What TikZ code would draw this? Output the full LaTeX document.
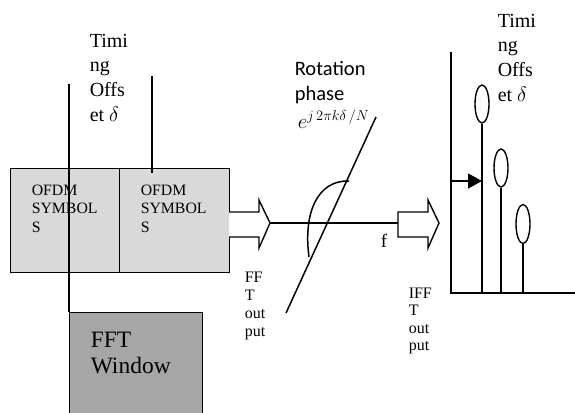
\documentclass[tikz,border=0pt]{standalone}
\usepackage{fontspec}
\setmainfont{Liberation Serif}
\newfontfamily\calibfont{Carlito}
\usetikzlibrary{shapes.geometric,arrows.meta}
\definecolor{symgray}{HTML}{D9D9D9}
\definecolor{fftgray}{HTML}{A6A6A6}
\begin{document}
\begin{tikzpicture}[x=1pt,y=-1pt,line width=1.5pt,
  symbox/.style={draw,fill=symgray,line width=1.4pt,minimum height=104pt,inner sep=0pt,anchor=north west},
  fftbox/.style={draw,fill=fftgray,line width=1.4pt,minimum width=133pt,minimum height=112pt,inner sep=0pt,anchor=north west},
  txt/.style={inner sep=0pt,anchor=base west,align=left},
  timitext/.style={txt,font=\fontsize{20}{24.6}\selectfont},
  symtext/.style={txt,font=\fontsize{15.8}{18.5}\selectfont},
  lolli/.style={draw,ellipse,line width=1.4pt,minimum width=14pt,minimum height=38pt,inner sep=0pt},
  hollow/.style={draw,fill=white,line width=1.4pt,line join=miter}]
\useasboundingbox (0,0) rectangle (575,412);
\begin{scope}
\clip (0,0) rectangle (575,412);
% OFDM symbol boxes (base anchor = last line baseline)
\node[symbox,minimum width=109pt] (s1) at (10,168) {};
\node[symbox,minimum width=110pt] (s2) at (119,168) {};
\node[symtext] (s1t) at (31,232) {OFDM\\SYMBOL\\S};
\node[symtext] (s2t) at (140,232) {OFDM\\SYMBOL\\S};
% FFT window
\node[fftbox] (fft) at (69,312) {};
\node[txt,font=\fontsize{23.5}{26}\selectfont] (fftt) at (90,373) {FFT\\Window};
% timing lines
\coordinate (v1top) at (69,84);
\draw (v1top) -- (fft.north west);
\coordinate (v2top) at (152,76);
\coordinate (v2bot) at (152,173);
\draw (v2top) -- (v2bot);
\node[timitext] (tim1) at (89,121) {Timi\\ng\\Offs\\et $\delta$};
% hollow arrows
\draw[hollow] (229,212) -- (259,212) -- (259,200) -- (270,223) -- (259,248) -- (259,237) -- (229,237);
\coordinate (a1tip) at (270,223);
\draw[hollow] (398,212) -- (428,212) -- (428,200) -- (439,223) -- (428,248) -- (428,237) -- (398,237) -- cycle;
\coordinate (a2tail) at (398,223);
\draw (a1tip) -- (a2tail);
\node[txt,font=\fontsize{19}{22}\selectfont] (flab) at (380,247) {f};
% rotation line and curve
\coordinate (sl1) at (286,313);
\coordinate (sl2) at (376,117);
\draw (sl1) -- (sl2);
\coordinate (cv1) at (309,257);
\coordinate (cv2) at (349,181);
\draw (cv1) .. controls (303,212) and (318,180) .. (cv2);
\node[txt,font=\calibfont\fontsize{20.5}{25}\selectfont] (rot) at (294,100) {Rotation\\phase};
\node[txt,font=\fontsize{20}{22}\selectfont] (expo) at (297,128) {$e^{j\,2\pi k\delta\,/N}$};
\node[txt,font=\fontsize{16}{18}\selectfont] (fftout) at (244,336) {FF\\T\\out\\put};
\node[txt,font=\fontsize{16}{17.5}\selectfont] (ifftout) at (408,350.5) {IFF\\T\\out\\put};
% right plot
\coordinate (ytop) at (451,52);
\coordinate (org) at (451,293);
\coordinate (xend) at (576,293);
\draw (ytop) -- (org) -- (xend);
\node[lolli] (e1) at (482,104) {};
\node[lolli] (e2) at (501,168) {};
\node[lolli,minimum height=39pt] (e3) at (523,224) {};
\draw (e1.south) -- (e1.south |- org);
\draw (e2.south) -- (e2.south |- org);
\draw (e3.south) -- (e3.south |- org);
\coordinate (harr) at (451,181);
\draw[-{Triangle[length=14pt,width=15pt]}] (harr) -- (harr -| e1.south);
\node[timitext] (tim2) at (497,101) {Timi\\ng\\Offs\\et $\delta$};
\end{scope}
\end{tikzpicture}
\end{document}
